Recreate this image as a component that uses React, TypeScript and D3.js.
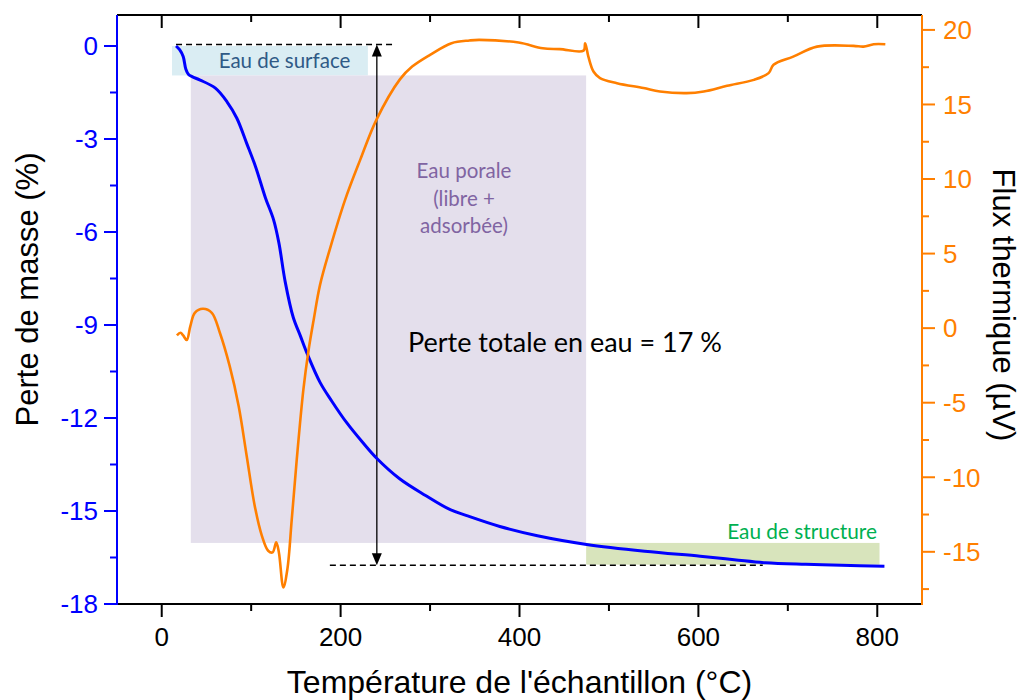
import React from "react";
import * as d3 from "d3";

// ---- Data ----
// Mass loss curve (TGA): temperature (°C) vs mass loss (%)
const massTemp = [16, 20, 24, 27, 30, 34, 43, 60, 73, 84, 95, 105, 116, 125, 131, 138, 147, 155, 163, 177, 190, 207, 225, 240, 266, 295, 322, 341, 378, 420, 475, 540, 602, 640, 675, 720, 760, 808];
const massLoss = [0, -0.12, -0.34, -0.75, -0.92, -0.99, -1.1, -1.36, -1.8, -2.33, -3.14, -3.9, -4.9, -5.6, -6.35, -7.6, -8.75, -9.35, -9.95, -10.85, -11.45, -12.16, -12.8, -13.29, -13.96, -14.5, -14.95, -15.15, -15.5, -15.8, -16.08, -16.3, -16.46, -16.57, -16.67, -16.72, -16.75, -16.78];

// Heat flux curve (DTA): temperature (°C) vs flux (µV)
const fluxTemp = [17, 21, 24, 28, 32, 37, 46, 56, 65, 76, 86, 95, 104, 112, 119, 124, 128, 131, 136, 140.5, 145.4, 151, 158.4, 164, 170, 177, 188, 205, 222, 240, 266.5, 280, 300, 324, 344, 355, 399, 426, 445, 471.6, 473.4, 477, 482.7, 490, 509, 538.6, 557, 587, 606, 632, 662, 678.5, 684, 706, 732.6, 773.5, 784.7, 796, 809];
const heatFlux = [-0.49, -0.31, -0.49, -0.8, 0.13, 1.03, 1.3, 1.03, -0.31, -2.55, -5.22, -8.57, -11.92, -13.93, -14.93, -15.04, -14.37, -15.04, -17.39, -16.16, -12.81, -8.79, -4.11, -1.55, 0.6, 2.9, 5.3, 8.6, 11.3, 13.97, 16.7, 17.54, 18.33, 19.11, 19.29, 19.33, 19.15, 18.77, 18.71, 18.61, 19.11, 18.21, 17.21, 16.77, 16.43, 16.1, 15.87, 15.76, 15.87, 16.25, 16.65, 17.1, 17.66, 18.21, 18.88, 18.93, 18.88, 19.04, 19.04];

// Axis ticks
const xMajorTicks = [0, 200, 400, 600, 800];
const xMinorTicks = [100, 300, 500, 700];
const leftMajorTicks = [-18, -15, -12, -9, -6, -3, 0];
const leftMinorTicks = [-16.5, -13.5, -10.5, -7.5, -4.5, -1.5];
const rightMajorTicks = [-15, -10, -5, 0, 5, 10, 15, 20];
const rightMinorTicks = [-17.5, -12.5, -7.5, -2.5, 2.5, 7.5, 12.5, 17.5];

// Annotation zones (data units: x in °C, y in mass loss %)
const zoneSurface = { x0: 11.5, x1: 230.5, y0: 0, y1: -0.95 };
const zonePorale = { x0: 32.5, x1: 474.5, y0: -0.95, y1: -16.03 };
const zoneStructure = { x0: 474.5, x1: 802.5, y0: -16.03, y1: -16.73 };
const totalLoss = -16.75;

const W = 1021;
const H = 700;
const L = 117, R = 922, T = 15, B = 604;

export default function App() {
  const x = d3.scaleLinear().domain([-50, 850]).range([L, R]);
  const yL = d3.scaleLinear().domain([-18, 1]).range([B, T]);
  const yR = d3.scaleLinear().domain([-18.5, 21]).range([B, T]);

  const massLine = d3
    .line<number>()
    .x((_, i) => x(massTemp[i]))
    .y((d) => yL(d))
    .curve(d3.curveCatmullRom.alpha(0.5));
  const fluxLine = d3
    .line<number>()
    .x((_, i) => x(fluxTemp[i]))
    .y((d) => yR(d))
    .curve(d3.curveCatmullRom.alpha(0.5));

  const blue = "#0000ff";
  const orange = "#ff7f00";
  const axisFont = "'Liberation Sans', Arial, sans-serif";
  const noteFont = "Lato, 'Open Sans', sans-serif";

  const rect = (z: { x0: number; x1: number; y0: number; y1: number }, fill: string) => (
    <rect
      x={x(z.x0)}
      y={yL(z.y0)}
      width={x(z.x1) - x(z.x0)}
      height={yL(z.y1) - yL(z.y0)}
      fill={fill}
    />
  );

  const arrowX = x(240.5);
  const arrowTop = yL(0) - 1.5;
  const arrowBot = yL(totalLoss);

  return (
    <svg width={W} height={H} style={{ position: "absolute", left: 0, top: 0, background: "#fff" }}>
      {/* zones */}
      {rect(zoneSurface, "#daedf3")}
      {rect(zonePorale, "#e4dfec")}
      {rect(zoneStructure, "#d8e4bc")}

      {/* dashed reference lines */}
      <line x1={x(16)} x2={x(258)} y1={arrowTop} y2={arrowTop} stroke="#000" strokeWidth={1.3} strokeDasharray="6,4" />
      <line x1={x(188)} x2={x(672)} y1={arrowBot} y2={arrowBot} stroke="#000" strokeWidth={1.3} strokeDasharray="6,4" />

      {/* double arrow */}
      <line x1={arrowX} x2={arrowX} y1={arrowTop + 10} y2={arrowBot - 10} stroke="#000" strokeWidth={1.3} />
      <path d={`M${arrowX},${arrowTop} l-5,12 l10,0 z`} fill="#000" />
      <path d={`M${arrowX},${arrowBot} l-5,-12 l10,0 z`} fill="#000" />

      {/* annotation texts */}
      <text x={284.5} y={68} textAnchor="middle" fontFamily={noteFont} fontSize={20.5} fill="#2f5a86">
        Eau de surface
      </text>
      <text textAnchor="middle" fontFamily={noteFont} fontSize={20.5} fill="#8064a2">
        <tspan x={464} y={178}>Eau porale</tspan>
        <tspan x={464} y={206}>(libre +</tspan>
        <tspan x={464} y={233}>adsorbée)</tspan>
      </text>
      <text x={408} y={352} fontFamily={noteFont} fontSize={27} fill="#000">
        Perte totale en eau = 17 %
      </text>
      <text x={877} y={539} textAnchor="end" fontFamily={noteFont} fontSize={20.8} fill="#00b050">
        Eau de structure
      </text>

      {/* curves */}
      <path d={massLine(massLoss) || ""} fill="none" stroke={blue} strokeWidth={3} strokeLinejoin="round" />
      <path d={fluxLine(heatFlux) || ""} fill="none" stroke={orange} strokeWidth={2.6} strokeLinejoin="round" />

      {/* top axis (black, inward ticks) */}
      <line x1={L} x2={R} y1={T} y2={T} stroke="#000" strokeWidth={2} />
      {xMajorTicks.map((t) => (
        <line key={"tM" + t} x1={x(t)} x2={x(t)} y1={T} y2={T + 13} stroke="#000" strokeWidth={2} />
      ))}
      {xMinorTicks.map((t) => (
        <line key={"tm" + t} x1={x(t)} x2={x(t)} y1={T} y2={T + 7} stroke="#000" strokeWidth={2} />
      ))}

      {/* bottom axis */}
      <line x1={L} x2={R} y1={B} y2={B} stroke="#000" strokeWidth={2} />
      {xMajorTicks.map((t) => (
        <g key={"bM" + t}>
          <line x1={x(t)} x2={x(t)} y1={B} y2={B + 13} stroke="#000" strokeWidth={2} />
          <text x={x(t)} y={B + 42} textAnchor="middle" fontFamily={axisFont} fontSize={26} fill="#000">
            {t}
          </text>
        </g>
      ))}
      {xMinorTicks.map((t) => (
        <line key={"bm" + t} x1={x(t)} x2={x(t)} y1={B} y2={B + 7} stroke="#000" strokeWidth={2} />
      ))}
      <text x={(L + R) / 2} y={693} textAnchor="middle" fontFamily={axisFont} fontSize={32} fill="#000">
        Température de l'échantillon (°C)
      </text>

      {/* left axis (blue) */}
      <line x1={L} x2={L} y1={T} y2={B + 1} stroke={blue} strokeWidth={2} />
      {leftMajorTicks.map((t) => (
        <g key={"lM" + t}>
          <line x1={L - 13} x2={L} y1={yL(t)} y2={yL(t)} stroke={blue} strokeWidth={2} />
          <text x={98} y={yL(t)} dy="0.36em" textAnchor="end" fontFamily={axisFont} fontSize={26} fill={blue}>
            {t}
          </text>
        </g>
      ))}
      {leftMinorTicks.map((t) => (
        <line key={"lm" + t} x1={L - 7} x2={L} y1={yL(t)} y2={yL(t)} stroke={blue} strokeWidth={2} />
      ))}
      <text
        transform={`translate(38,${(T + B) / 2 - 20}) rotate(-90)`}
        textAnchor="middle"
        fontFamily={axisFont}
        fontSize={31}
        fill="#000"
      >
        Perte de masse (%)
      </text>

      {/* right axis (orange) */}
      <line x1={R} x2={R} y1={T} y2={B + 1} stroke={orange} strokeWidth={2} />
      {rightMajorTicks.map((t) => (
        <g key={"rM" + t}>
          <line x1={R} x2={R + 13} y1={yR(t)} y2={yR(t)} stroke={orange} strokeWidth={2} />
          <text x={943} y={yR(t)} dy="0.36em" textAnchor="start" fontFamily={axisFont} fontSize={26} fill={orange}>
            {t}
          </text>
        </g>
      ))}
      {rightMinorTicks.map((t) => (
        <line key={"rm" + t} x1={R} x2={R + 7} y1={yR(t)} y2={yR(t)} stroke={orange} strokeWidth={2} />
      ))}
      <text
        transform={`translate(993,305) rotate(90)`}
        textAnchor="middle"
        fontFamily={axisFont}
        fontSize={31}
        fill="#000"
      >
        Flux thermique (µV)
      </text>
    </svg>
  );
}
